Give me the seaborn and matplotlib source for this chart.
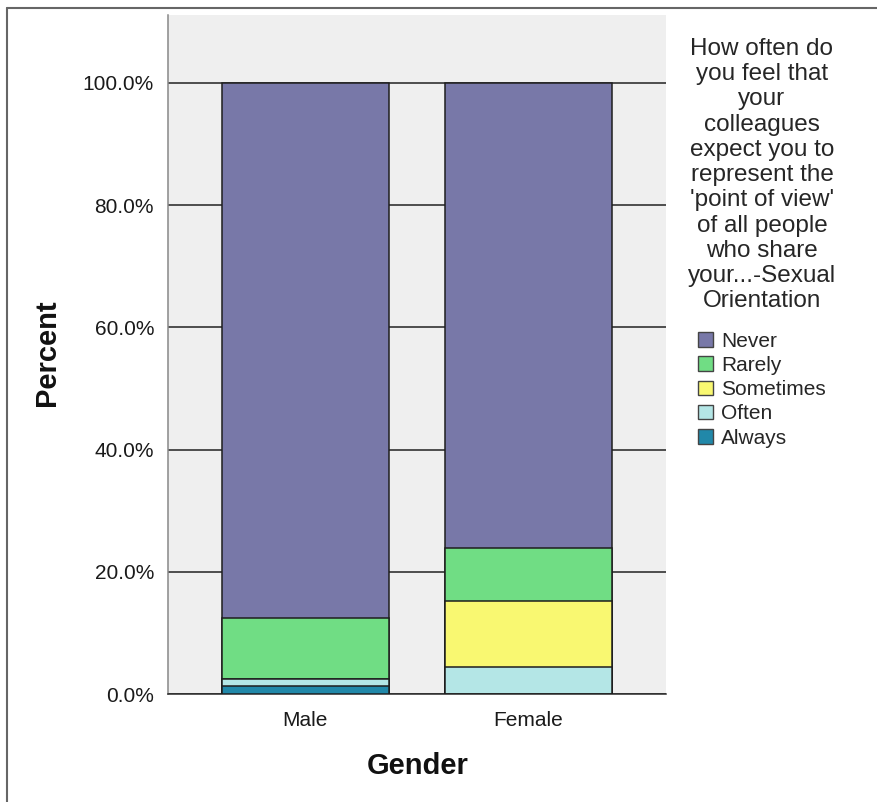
import numpy as np
import matplotlib
matplotlib.use("Agg")
import matplotlib.pyplot as plt
from matplotlib.patches import Patch
from matplotlib.lines import Line2D
import seaborn as sns

# Percent of respondents within each gender
genders = ["Male", "Female"]
levels = ["Never", "Rarely", "Sometimes", "Often", "Always"]
never = [87.50, 76.09]
rarely = [10.00, 8.70]
sometimes = [0.00, 10.87]
often = [1.25, 4.35]
always = [1.25, 0.00]
level_colors = ["#7878a8", "#70dd84", "#f9f871", "#b4e6e6", "#2188a9"]
y_ticks = [0, 20, 40, 60, 80, 100]
legend_title = ("How often do\nyou feel that\nyour\ncolleagues\nexpect you to\n"
                "represent the\n'point of view'\nof all people\nwho share\n"
                "your...-Sexual\nOrientation")

sns.set_style("white")
plt.rcParams["font.family"] = ["Liberation Sans", "DejaVu Sans"]

W, H = 877, 802
fig = plt.figure(figsize=(W / 100, H / 100), dpi=100)
ax = fig.add_axes([168 / W, 1 - 694 / H, (666 - 168) / W, (694 - 15) / H])
ax.set_facecolor("#efefef")

# stacked segments, bottom to top
stack = np.array([always, often, sometimes, rarely, never])
stack_colors = level_colors[::-1]
tops = np.cumsum(stack, axis=0)

# draw the tallest cumulative bar first so each lower layer sits over it
for i in range(len(stack) - 1, -1, -1):
    sns.barplot(x=genders, y=tops[i], color=stack_colors[i], saturation=1,
                width=0.747, edgecolor="#1e1e1e", linewidth=1.1, ax=ax,
                zorder=3)

ax.set_xlim(-0.615, 1.617)
ax.set_ylim(0, 111.1)
ax.set_yticks(y_ticks)
ax.set_yticklabels([f"{v:.1f}%" for v in y_ticks])
ax.set_axisbelow(True)
ax.yaxis.grid(True, color="#222222", linewidth=1.1)
ax.xaxis.grid(False)

for side in ("top", "right"):
    ax.spines[side].set_visible(False)
ax.spines["left"].set_color("#888888")
ax.spines["left"].set_linewidth(1.1)
ax.spines["bottom"].set_color("#2a2a2a")
ax.spines["bottom"].set_linewidth(1.1)

ax.tick_params(axis="both", direction="out", length=6, width=1.0,
               color="#333333", labelsize=15, labelcolor="#1a1a1a", pad=4)
ax.tick_params(axis="x", pad=6)

ax.set_xlabel("Gender", fontsize=21, fontweight="bold", color="#111111")
ax.set_ylabel("Percent", fontsize=21, fontweight="bold", color="#111111")
ax.xaxis.label.set_va("center")
ax.yaxis.label.set_va("center")
ax.xaxis.set_label_coords((418 - 168) / 498, (694 - 766) / 679)
ax.yaxis.set_label_coords((47 - 168) / 498, (694 - 353) / 679)

handles = [Patch(facecolor=c, edgecolor="#444444", linewidth=1.0)
           for c in level_colors]
leg = fig.legend(handles, levels, title=legend_title, loc="upper center",
                 bbox_to_anchor=(762 / W, 1 - 38 / H), frameon=False,
                 fontsize=15, title_fontsize=17.5, alignment="center",
                 handlelength=0.7, handleheight=0.7, handletextpad=0.4,
                 labelspacing=0.25, borderpad=0, borderaxespad=0)
leg.get_title().set_linespacing(1.19)
leg.get_title().set_multialignment("center")
leg._legend_box.sep = 14

# outer frame lines
fig.add_artist(Line2D([7 / W, 1], [1 - 8 / H, 1 - 8 / H],
                      transform=fig.transFigure, color="#666666", lw=1.5))
fig.add_artist(Line2D([7 / W, 7 / W], [0, 1 - 8 / H],
                      transform=fig.transFigure, color="#666666", lw=1.5))

fig.savefig("out.png", dpi=100)
